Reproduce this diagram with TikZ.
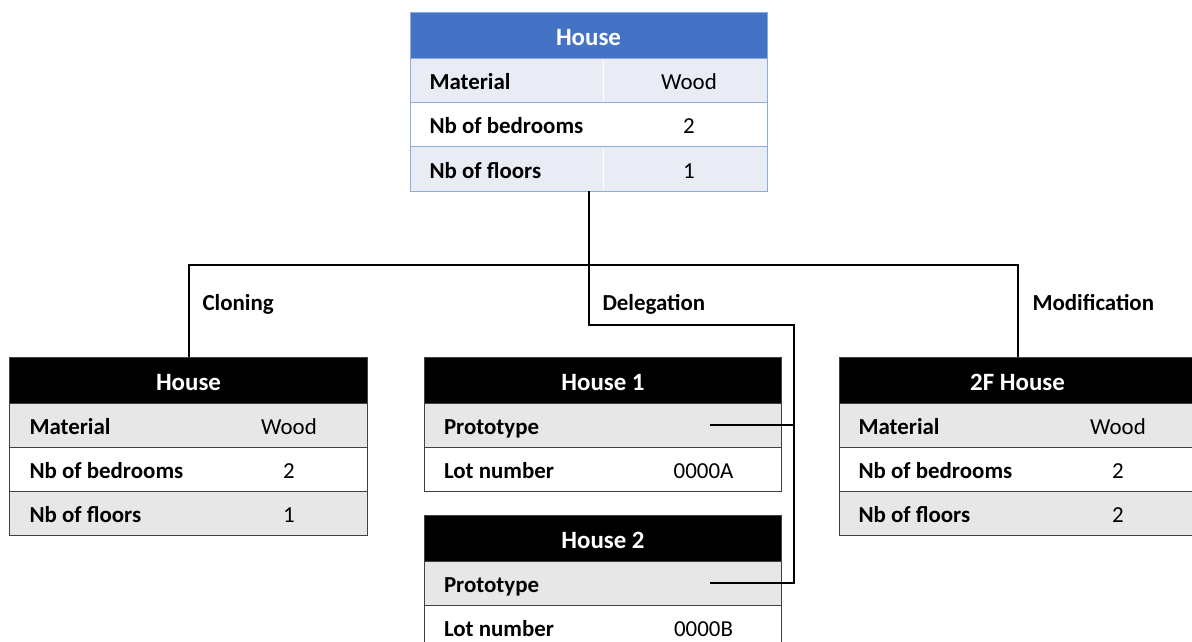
\documentclass[tikz,border=0pt]{standalone}
\usepackage{fontspec}
\setmainfont{Carlito}
\usetikzlibrary{positioning}

\definecolor{headblue}{HTML}{4472C4}
\definecolor{rowblue}{HTML}{E9EBF5}
\definecolor{lineblue}{HTML}{8FAADC}
\definecolor{rowgray}{HTML}{E7E7E7}
\definecolor{linegray}{HTML}{404040}

\tikzset{
  tablecell/.style={rectangle, minimum width=357bp, minimum height=44bp,
    inner sep=0pt, outer sep=0pt, line width=1bp},
  tablehead/.style={tablecell, minimum height=46bp, text=white,
    text height=20bp, text depth=0bp, font=\fontsize{25}{30}\selectfont\bfseries},
  bluehead/.style={tablehead, fill=headblue, draw=lineblue},
  bluerow/.style={tablecell, draw=lineblue, fill=rowblue},
  blueplain/.style={tablecell, draw=lineblue, fill=white},
  blackhead/.style={tablehead, fill=black, draw=linegray},
  grayrow/.style={tablecell, draw=linegray, fill=rowgray},
  plainrow/.style={tablecell, draw=linegray, fill=white},
  fieldname/.style={anchor=west, xshift=16bp, text height=20bp, text depth=2bp,
    font=\fontsize{23}{27}\selectfont\bfseries},
  fieldvalue/.style={xshift=279bp, text height=20bp, text depth=2bp,
    font=\fontsize{23}{27}\selectfont},
  branchlabel/.style={anchor=west, text height=18bp, text depth=4bp,
    font=\fontsize{23}{27}\selectfont\bfseries},
  link/.style={line width=2bp, black}
}

\begin{document}
\begin{tikzpicture}[x=1bp,y=-1bp]
	\useasboundingbox (0,0) rectangle (1192,642);
	\clip (0,0) rectangle (1192,642);

	% the prototype
	\node[bluehead] (house) at (588.5,36) {House};
	\node[bluerow, below=0pt of house] (houseM) {};
	\node[blueplain, below=0pt of houseM] (houseB) {};
	\node[bluerow, below=0pt of houseB] (houseF) {};
	\draw[white, line width=1bp, shorten <=1bp, shorten >=1bp]
		([xshift=14.5bp]houseM.north) -- ([xshift=14.5bp]houseM.south);
	\draw[white, line width=1bp, shorten <=1bp, shorten >=1bp]
		([xshift=14.5bp]houseF.north) -- ([xshift=14.5bp]houseF.south);
	\node[fieldname] at (houseM.west) {Material};
	\node[fieldvalue] at (houseM.west) {Wood};
	\node[fieldname] at (houseB.west) {Nb of bedrooms};
	\node[fieldvalue] at (houseB.west) {2};
	\node[fieldname] at (houseF.west) {Nb of floors};
	\node[fieldvalue] at (houseF.west) {1};

	% cloning
	\node[blackhead] (clone) at (188.5,380) {House};
	\node[grayrow, below=0pt of clone] (cloneM) {};
	\node[plainrow, below=0pt of cloneM] (cloneB) {};
	\node[grayrow, below=0pt of cloneB] (cloneF) {};
	\node[fieldname] at (cloneM.west) {Material};
	\node[fieldvalue] at (cloneM.west) {Wood};
	\node[fieldname] at (cloneB.west) {Nb of bedrooms};
	\node[fieldvalue] at (cloneB.west) {2};
	\node[fieldname] at (cloneF.west) {Nb of floors};
	\node[fieldvalue] at (cloneF.west) {1};

	% delegation
	\node[blackhead] (first) at (603,380) {House 1};
	\node[grayrow, below=0pt of first] (firstP) {};
	\node[plainrow, below=0pt of firstP] (firstL) {};
	\node[fieldname] at (firstP.west) {Prototype};
	\node[fieldname] at (firstL.west) {Lot number};
	\node[fieldvalue] at (firstL.west) {0000A};

	\node[blackhead] (second) at (603,538) {House 2};
	\node[grayrow, below=0pt of second] (secondP) {};
	\node[plainrow, below=0pt of secondP] (secondL) {};
	\node[fieldname] at (secondP.west) {Prototype};
	\node[fieldname] at (secondL.west) {Lot number};
	\node[fieldvalue] at (secondL.west) {0000B};

	% modification
	\node[blackhead] (modified) at (1017.5,380) {2F House};
	\node[grayrow, below=0pt of modified] (modifiedM) {};
	\node[plainrow, below=0pt of modifiedM] (modifiedB) {};
	\node[grayrow, below=0pt of modifiedB] (modifiedF) {};
	\node[fieldname] at (modifiedM.west) {Material};
	\node[fieldvalue] at (modifiedM.west) {Wood};
	\node[fieldname] at (modifiedB.west) {Nb of bedrooms};
	\node[fieldvalue] at (modifiedB.west) {2};
	\node[fieldname] at (modifiedF.west) {Nb of floors};
	\node[fieldvalue] at (modifiedF.west) {2};

	% connectors
	\coordinate (fork) at (588.5,265);
	\coordinate (bend) at (794,325);
	\coordinate (ptrA) at ([xshift=285bp]firstP.west);
	\coordinate (ptrB) at ([xshift=285bp]secondP.west);
	\draw[link] (houseF.south) -- (fork);
	\draw[link] (clone.north) |- (fork) -| (modified.north);
	\draw[link] (fork) |- (bend) |- (ptrB);
	\draw[link] (ptrA) -- (ptrA -| bend);

	\node[branchlabel] (cloneTag) at (199,304) {Cloning};
	\node[branchlabel] (delegTag) at (599,304) {Delegation};
	\node[branchlabel] (modTag) at (1029,304) {Modification};
\end{tikzpicture}
\end{document}
